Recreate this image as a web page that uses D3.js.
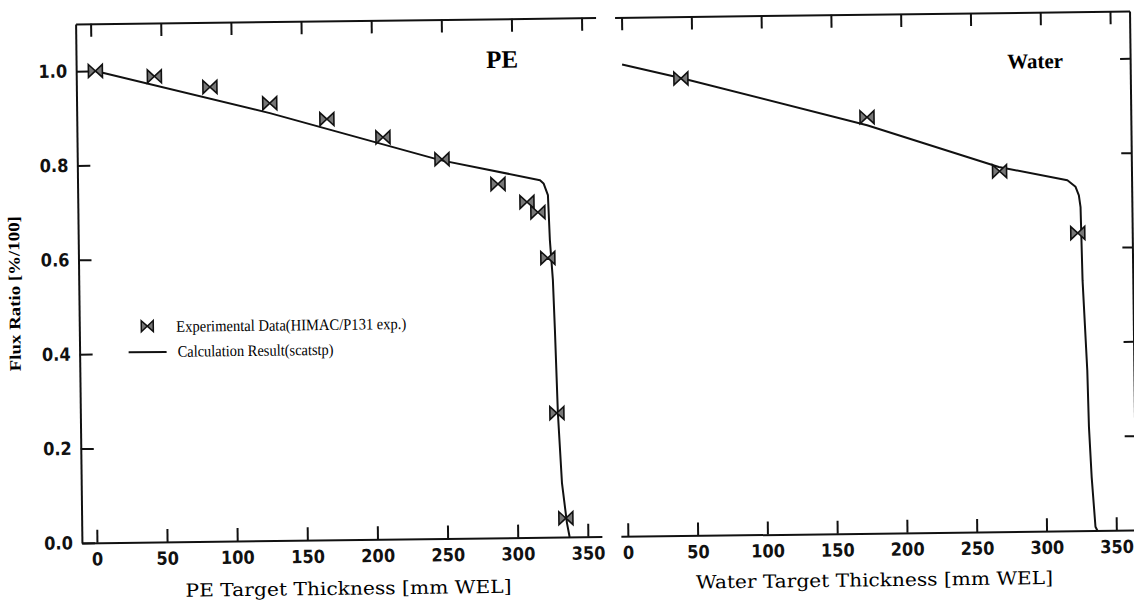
<!DOCTYPE html>
<html>
<head>
<meta charset="utf-8">
<script src="https://cdn.jsdelivr.net/npm/d3@7"></script>
<style>
  body { margin: 0; background: #fff; }
  svg { display: block; }
  .tick text {
    font-family: "Liberation Sans Narrow", "DejaVu Sans Condensed", "Arial Narrow", sans-serif;
    font-weight: bold;
    font-size: 18px;
    fill: #111;
  }
</style>
</head>
<body>
<svg id="chart"></svg>
<script>
// values
const peThickness = [3, 45, 84.5, 127, 167.6, 207.4, 249.3, 289, 309.5, 317.2, 323.9, 329, 334.5];
const peFlux = [1.0, 0.987, 0.963, 0.927, 0.892, 0.852, 0.804, 0.750, 0.711, 0.689, 0.592, 0.263, 0.040];

const peCalcThickness = [3, 127, 248, 319, 321.5, 324.5, 325.5, 327.3, 328.3, 329.7, 332, 335.2, 337];
const peCalcFlux = [1.0, 0.906, 0.802, 0.757, 0.75, 0.725, 0.63, 0.545, 0.44, 0.263, 0.115, 0.03, 0];

const waterThickness = [42, 175, 269.5, 325];
const waterFlux = [0.969, 0.882, 0.764, 0.631];

const waterCalcThickness = [0, 42, 175, 269, 318, 323.8, 326.1, 327.2, 328, 330.6, 331.3, 332.8, 335.1, 336.4];
const waterCalcFlux = [1.0, 0.97, 0.865, 0.773, 0.743, 0.729, 0.711, 0.686, 0.531, 0.34, 0.22, 0.114, 0.008, 0];

const xTicks = [0, 50, 100, 150, 200, 250, 300, 350];
const yTicks = [0.0, 0.2, 0.4, 0.6, 0.8, 1.0];

const width = 1134;
const height = 601;

const svg = d3.select("#chart")
  .attr("width", width)
  .attr("height", height);

// the scanned figure is tilted a little, so tilt the drawing the same way
const g = svg.append("g")
  .attr("transform", "rotate(-0.7, 567, 300)");

// scales
const y = d3.scaleLinear().domain([0, 1.1]).range([537, 18]);
const xPE = d3.scaleLinear().domain([-10.7, 360]).range([79, 599]);
const xWater = d3.scaleLinear().domain([-5, 364]).range([618, 1133]);

function styleAxis(sel) {
  sel.select(".domain").attr("stroke", "#111").attr("stroke-width", 2);
  sel.selectAll(".tick line").attr("stroke", "#111").attr("stroke-width", 2);
}

// bow-tie marker
function bowtie(w, h) {
  return `M${-w / 2},${-h / 2}L0,0L${-w / 2},${h / 2}Z M${w / 2},${-h / 2}L0,0L${w / 2},${h / 2}Z`;
}

function drawPanel(x, calcX, calcY, dataX, dataY) {
  g.append("g")
    .attr("transform", `translate(0,${y(0)})`)
    .call(d3.axisBottom(x).tickValues(xTicks).tickSizeInner(-13).tickSizeOuter(0).tickPadding(10))
    .call(styleAxis);

  g.append("g")
    .attr("transform", `translate(0,${y(1.1)})`)
    .call(d3.axisTop(x).tickValues(xTicks).tickSizeInner(-13).tickSizeOuter(0).tickFormat(""))
    .call(styleAxis);

  const line = d3.line()
    .x(d => x(d[0]))
    .y(d => y(d[1]));

  g.append("path")
    .datum(d3.zip(calcX, calcY))
    .attr("fill", "none")
    .attr("stroke", "#111")
    .attr("stroke-width", 2)
    .attr("stroke-linejoin", "round")
    .attr("d", line);

  g.append("g")
    .selectAll("path")
    .data(d3.zip(dataX, dataY))
    .join("path")
    .attr("transform", d => `translate(${x(d[0])},${y(d[1])})`)
    .attr("d", bowtie(14, 13))
    .attr("fill", "#777")
    .attr("stroke", "#111")
    .attr("stroke-width", 1.6);
}

// PE panel
drawPanel(xPE, peCalcThickness, peCalcFlux, peThickness, peFlux);

g.append("g")
  .attr("transform", `translate(${xPE.range()[0]},0)`)
  .call(d3.axisLeft(y).tickValues(yTicks).tickSizeInner(-13).tickSizeOuter(0).tickPadding(9).tickFormat(d3.format(".1f")))
  .call(styleAxis);

// Water panel
drawPanel(xWater, waterCalcThickness, waterCalcFlux, waterThickness, waterFlux);

g.append("g")
  .attr("transform", `translate(${xWater.range()[1]},0)`)
  .call(d3.axisLeft(y).tickValues(yTicks.slice(1)).tickSizeInner(10).tickSizeOuter(0).tickFormat(""))
  .call(styleAxis);

// panel names
g.append("text")
  .attr("x", 489)
  .attr("y", 67)
  .attr("font-family", "Liberation Serif, Times New Roman, serif")
  .attr("font-weight", "bold")
  .attr("font-size", 25)
  .text("PE");

g.append("text")
  .attr("x", 1010)
  .attr("y", 74)
  .attr("font-family", "Liberation Serif, Times New Roman, serif")
  .attr("font-weight", "bold")
  .attr("font-size", 21)
  .text("Water");

// axis titles
g.append("text")
  .attr("x", 345)
  .attr("y", 592)
  .attr("text-anchor", "middle")
  .attr("font-family", "DejaVu Serif, serif")
  .attr("font-size", 18)
  .attr("textLength", 326)
  .attr("lengthAdjust", "spacingAndGlyphs")
  .text("PE Target Thickness [mm WEL]");

g.append("text")
  .attr("x", 871)
  .attr("y", 590)
  .attr("text-anchor", "middle")
  .attr("font-family", "DejaVu Serif, serif")
  .attr("font-size", 18)
  .attr("textLength", 357)
  .attr("lengthAdjust", "spacingAndGlyphs")
  .text("Water Target Thickness [mm WEL]");

g.append("text")
  .attr("transform", "translate(20,287) rotate(-90)")
  .attr("text-anchor", "middle")
  .attr("font-family", "Liberation Serif, Times New Roman, serif")
  .attr("font-weight", "bold")
  .attr("font-size", 16)
  .attr("textLength", 155)
  .attr("lengthAdjust", "spacingAndGlyphs")
  .text("Flux Ratio [%/100]");

// legend
const legend = g.append("g");

legend.append("path")
  .attr("transform", "translate(147,321)")
  .attr("d", bowtie(12, 11))
  .attr("fill", "#777")
  .attr("stroke", "#111")
  .attr("stroke-width", 1.5);

legend.append("text")
  .attr("x", 176)
  .attr("y", 327)
  .attr("font-family", "Liberation Serif, Times New Roman, serif")
  .attr("font-size", 16)
  .attr("textLength", 230)
  .attr("lengthAdjust", "spacingAndGlyphs")
  .text("Experimental Data(HIMAC/P131 exp.)");

legend.append("line")
  .attr("x1", 128)
  .attr("x2", 166)
  .attr("y1", 347)
  .attr("y2", 347)
  .attr("stroke", "#111")
  .attr("stroke-width", 2);

legend.append("text")
  .attr("x", 177)
  .attr("y", 352)
  .attr("font-family", "Liberation Serif, Times New Roman, serif")
  .attr("font-size", 16)
  .attr("textLength", 156)
  .attr("lengthAdjust", "spacingAndGlyphs")
  .text("Calculation Result(scatstp)");
</script>
</body>
</html>
